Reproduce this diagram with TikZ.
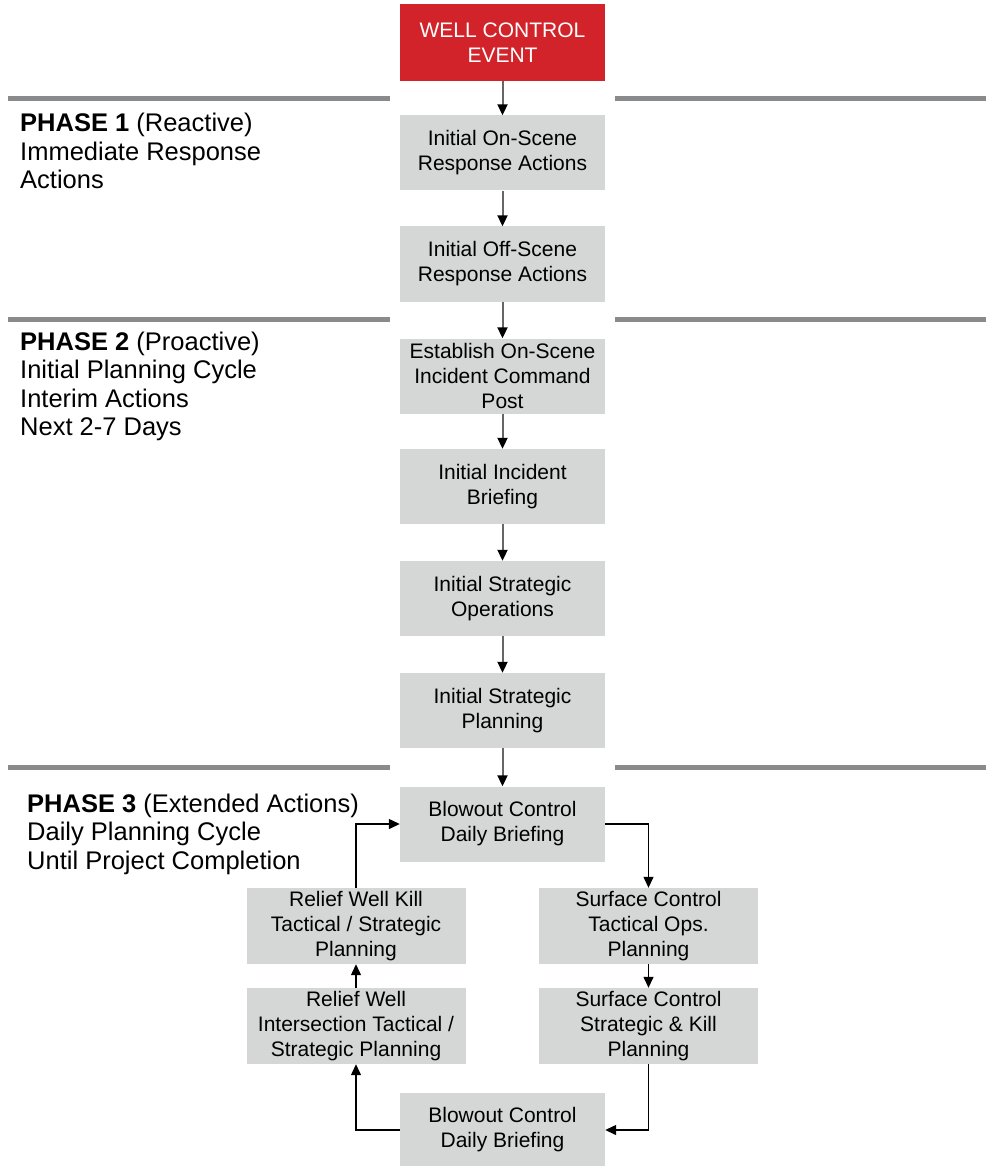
\documentclass[tikz,border=0pt]{standalone}
\usepackage{fontspec}
\setmainfont{Liberation Sans}
\usepackage{tikz}
\usepackage{xcolor}
\usetikzlibrary{arrows.meta, positioning}
\definecolor{WC_Red}{HTML}{D2232A}
\definecolor{WC_Box}{HTML}{D4D7D6}
\definecolor{WC_Rule}{HTML}{888A8C}
\definecolor{WC_Stem}{HTML}{666666}

\tikzset{
    stepbox/.style={fill=WC_Box, draw=none, inner sep=0pt, align=center,
        minimum width=205pt, minimum height=75pt,
        font=\fontsize{21}{25}\selectfont},
    loopbox/.style={stepbox, minimum width=219pt, minimum height=76pt},
    eventbox/.style={stepbox, fill=WC_Red, text=white, minimum height=77pt},
    phasetext/.style={anchor=north west, inner sep=0pt, align=left,
        font=\fontsize{25.5}{28.5}\selectfont},
    phaserule/.style={WC_Rule, line width=5pt},
    flowarrow/.style={WC_Stem, line width=2pt,
        -{Triangle[length=11pt, width=10pt, color=black]}},
    looparrow/.style={black, line width=1.3pt,
        -{Triangle[length=11pt, width=10pt]}}
}

\begin{document}
\begin{tikzpicture}[x=1pt, y=-1pt]
    \useasboundingbox (0, 0) rectangle (986, 1166);

    % Phase rules
    \foreach \ry in {99, 319.5, 767} {
        \draw[phaserule] (8, \ry) -- (390, \ry);
        \draw[phaserule] (615, \ry) -- (986, \ry);
    }

    % Phase labels
    \node[phasetext] (phaseone) at (20, 113) {\textbf{PHASE 1} (Reactive)\\Immediate Response\\Actions};
    \node[phasetext] (phasetwo) at (20, 331.5) {\textbf{PHASE 2} (Proactive)\\Initial Planning Cycle\\Interim Actions\\Next 2-7 Days};
    \node[phasetext] (phasethree) at (27, 793.5) {\textbf{PHASE 3} (Extended Actions)\\Daily Planning Cycle\\Until Project Completion};

    % Main column
    \node[eventbox] (event) at (502.5, 42.3) {WELL CONTROL\\EVENT};
    \node[stepbox] (onscene) at (502.5, 153) {Initial On-Scene\\Response Actions};
    \node[stepbox] (offscene) at (502.5, 264) {Initial Off-Scene\\Response Actions};
    \node[stepbox] (command) at (502.5, 376) {Establish On-Scene\\Incident Command\\Post};
    \node[stepbox] (briefing) at (502.5, 486.5) {Initial Incident\\Briefing};
    \node[stepbox] (stratops) at (502.5, 598.5) {Initial Strategic\\Operations};
    \node[stepbox] (stratplan) at (502.5, 710.5) {Initial Strategic\\Planning};

    % Daily cycle
    \node[stepbox] (dailytop) at (502.5, 824) {Blowout Control\\Daily Briefing};
    \node[loopbox] (surftac) at (648.5, 926) {Surface Control\\Tactical Ops.\\Planning};
    \node[loopbox] (surfkill) at (648.5, 1026) {Surface Control\\Strategic \& Kill\\Planning};
    \node[stepbox, minimum height=74pt] (dailybot) at (502.5, 1130) {Blowout Control\\Daily Briefing};
    \node[loopbox] (reliefint) at (356, 1026) {Relief Well\\Intersection Tactical /\\Strategic Planning};
    \node[loopbox] (reliefkill) at (356, 926) {Relief Well Kill\\Tactical / Strategic\\Planning};

    % Main flow
    \draw[flowarrow] (event) -- (onscene);
    \draw[flowarrow] (onscene) -- (offscene);
    \draw[flowarrow] (offscene) -- (command);
    \draw[flowarrow] (command) -- (briefing);
    \draw[flowarrow] (briefing) -- (stratops);
    \draw[flowarrow] (stratops) -- (stratplan);
    \draw[flowarrow] (stratplan) -- (dailytop);

    % Loop
    \draw[looparrow] (dailytop.east) -| (surftac.north);
    \draw[looparrow] (surftac) -- (surfkill);
    \draw[looparrow] (surfkill.south) |- (dailybot.east);
    \draw[looparrow] (dailybot.west) -| (reliefint.south);
    \draw[looparrow] (reliefint) -- (reliefkill);
    \draw[looparrow] (reliefkill.north) |- (dailytop.west);
\end{tikzpicture}
\end{document}
